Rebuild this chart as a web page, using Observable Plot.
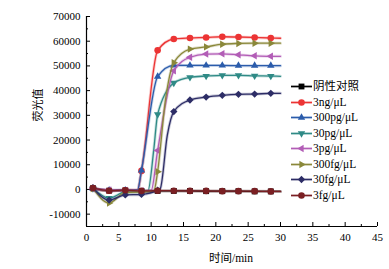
<!DOCTYPE html>
<html>
<head>
<meta charset="utf-8">
<script src="https://cdn.jsdelivr.net/npm/d3@7"></script>
<script src="https://cdn.jsdelivr.net/npm/@observablehq/plot@0.6"></script>
<style>
  html, body { margin: 0; padding: 0; background: #fff; }
  #wrap { position: relative; width: 389px; height: 269px; font-family: "Liberation Serif", "Noto Sans CJK SC", serif; color: #000; }
  #legend { position: absolute; left: 290px; top: 79px; font-size: 11.5px; line-height: 15.5px; }
  .row { display: flex; align-items: center; height: 15.5px; white-space: nowrap; }
  .row svg { width: 23px; height: 11px; margin-right: 0px; }
  #ylab { position: absolute; left: 37px; top: 105px; transform: translate(-50%, -50%) rotate(-90deg); font-size: 11px; white-space: nowrap; }
  #xlab { position: absolute; left: 231px; top: 257px; transform: translate(-50%, -50%); font-size: 11.5px; white-space: nowrap; }
</style>
</head>
<body>
<div id="wrap">
  <div id="ylab"></div>
  <div id="xlab"></div>
  <div id="legend"></div>
</div>
<script>
// ---- data ----
const times = [1, 3.5, 6, 8.5, 11, 13.5, 16, 18.5, 21, 23.5, 26, 28.5, 30]; // last point: line end only
const markerCount = 12;
const seriesNames = ["阴性对照", "3ng/μL", "300pg/μL", "30pg/μL", "3pg/μL", "300fg/μL", "30fg/μL", "3fg/μL"];
const neg      = [500, -500, -400, -600, -600, -600, -600, -700, -700, -700, -800, -800, -800];
const ng3      = [400, -500, -300, 7500, 56300, 60900, 61300, 61500, 61800, 61700, 61500, 61300, 61200];
const pg300    = [300, -300, -300, 7700, 45700, 50200, 50200, 50200, 50200, 50100, 50100, 50100, 50100];
const pg30     = [400, -3500, -1000, -800, 30400, 43100, 45400, 45900, 46200, 46200, 46000, 45900, 45800];
const pg3      = [300, -200, -400, -500, 15800, 48000, 53500, 54800, 54900, 54500, 54100, 53900, 53900];
const fg300    = [400, -5500, -1200, -1000, 7200, 51300, 56800, 57700, 58800, 59100, 59200, 59200, 59200];
const fg30     = [700, -4300, -2200, -2000, -300, 31500, 36200, 37400, 38100, 38500, 38600, 38900, 38900];
const fg3      = [600, -500, -300, -600, -500, -500, -600, -600, -700, -700, -700, -800, -800];
// extra points (line only, no marker): [time, value]
const ng3Curve   = [[7.9, -200]];
const pg300Curve = [[7.9, -200]];
const pg30Curve  = [[9.5, -600], [10.4, 16000]];
const pg3Curve   = [[10.0, -400]];
const fg300Curve = [[10.4, -800], [12.2, 36000]];
const fg30Curve  = [[11.4, 300], [12.5, 22000]];
const seriesValues = [neg, ng3, pg300, pg30, pg3, fg300, fg30, fg3];
const seriesCurves = [[], ng3Curve, pg300Curve, pg30Curve, pg3Curve, fg300Curve, fg30Curve, []];
const colors = ["#000000", "#ec3434", "#2b5cab", "#2f8a86", "#b25db6", "#8a883a", "#2d2d66", "#7a1f23"];
const xTicks = [0, 5, 10, 15, 20, 25, 30, 35, 40, 45];
const xMinor = [2.5, 7.5, 12.5, 17.5, 22.5, 27.5, 32.5, 37.5, 42.5];
const yTicks = [-10000, 0, 10000, 20000, 30000, 40000, 50000, 60000, 70000];
const yMinor = [-5000, 5000, 15000, 25000, 35000, 45000, 55000, 65000];
const xDomain = [0, 45];
const yDomain = [-15000, 70000];
const xTitle = "时间/min";
const yTitle = "荧光值";

// ---- symbols ----
function triangle(angle) {
  return {draw(context, size) {
    const r = Math.sqrt(size / Math.PI) * 1.3;
    for (let k = 0; k < 3; ++k) {
      const a = angle + k * 2 * Math.PI / 3;
      const px = r * Math.sin(a), py = -r * Math.cos(a);
      if (k) context.lineTo(px, py); else context.moveTo(px, py);
    }
    context.closePath();
  }};
}
const symbols = [d3.symbolSquare, d3.symbolCircle, triangle(0), triangle(Math.PI), triangle(-Math.PI / 2), triangle(Math.PI / 2), d3.symbolDiamond2, d3.symbolCircle];
const R = 3.3;

const series = seriesNames.map((name, s) => {
  const markers = times.slice(0, markerCount).map((t, i) => ({t, v: seriesValues[s][i]}));
  const line = times.map((t, i) => ({t, v: seriesValues[s][i]}))
    .concat(seriesCurves[s].map(([t, v]) => ({t, v})))
    .sort((a, b) => a.t - b.t);
  return {name, color: colors[s], symbol: symbols[s], markers, line};
});

const marks = [
  Plot.ruleX([xDomain[0]], {stroke: "#000", strokeWidth: 1.2}),
  Plot.ruleY([yDomain[0]], {stroke: "#000", strokeWidth: 1.2}),
  Plot.axisX({ticks: xTicks, tickSize: -4, tickFormat: () => "", label: null}),
  Plot.axisX({ticks: xMinor, tickSize: -2, tickFormat: () => "", label: null}),
  Plot.axisX({ticks: xTicks, tickSize: 0, tickPadding: 7, tickFormat: d => String(d), label: null, fontSize: 11}),
  Plot.axisY({ticks: yTicks, tickSize: -4, tickFormat: () => "", label: null}),
  Plot.axisY({ticks: yMinor, tickSize: -2, tickFormat: () => "", label: null}),
  Plot.axisY({ticks: yTicks, tickSize: 0, tickPadding: 6, tickFormat: d => String(d), label: null, fontSize: 11})
];
for (const s of series) {
  marks.push(Plot.line(s.line, {x: "t", y: "v", curve: "monotone-x", stroke: s.color, strokeWidth: 3, strokeOpacity: 0.25}));
  marks.push(Plot.line(s.line, {x: "t", y: "v", curve: "monotone-x", stroke: s.color, strokeWidth: 1.3}));
  marks.push(Plot.dot(s.markers, {x: "t", y: "v", symbol: s.symbol, r: R, fill: s.color, stroke: null}));
}

const chart = Plot.plot({
  width: 389, height: 269,
  marginLeft: 86, marginRight: 12, marginTop: 16, marginBottom: 43,
  x: {domain: xDomain},
  y: {domain: yDomain},
  style: {fontFamily: "'Liberation Serif', 'Noto Sans CJK SC', serif", fontSize: "11px", color: "#000", background: "transparent"},
  marks
});
const wrap = document.getElementById("wrap");
wrap.insertBefore(chart, wrap.firstChild);
document.getElementById("xlab").textContent = xTitle;
document.getElementById("ylab").textContent = yTitle;

// legend
const legend = document.getElementById("legend");
for (const s of series) {
  const row = document.createElement("div");
  row.className = "row";
  const path = d3.symbol().type(s.symbol).size(Math.PI * R * R)();
  row.innerHTML = `<svg viewBox="0 0 23 11"><line x1="1" x2="22" y1="5.5" y2="5.5" stroke="${s.color}" stroke-width="3" stroke-opacity="0.25"/><line x1="1" x2="22" y1="5.5" y2="5.5" stroke="${s.color}" stroke-width="1.3"/><path transform="translate(11.5,5.5)" d="${path}" fill="${s.color}"/></svg><span>${s.name}</span>`;
  legend.appendChild(row);
}
</script>
</body>
</html>
